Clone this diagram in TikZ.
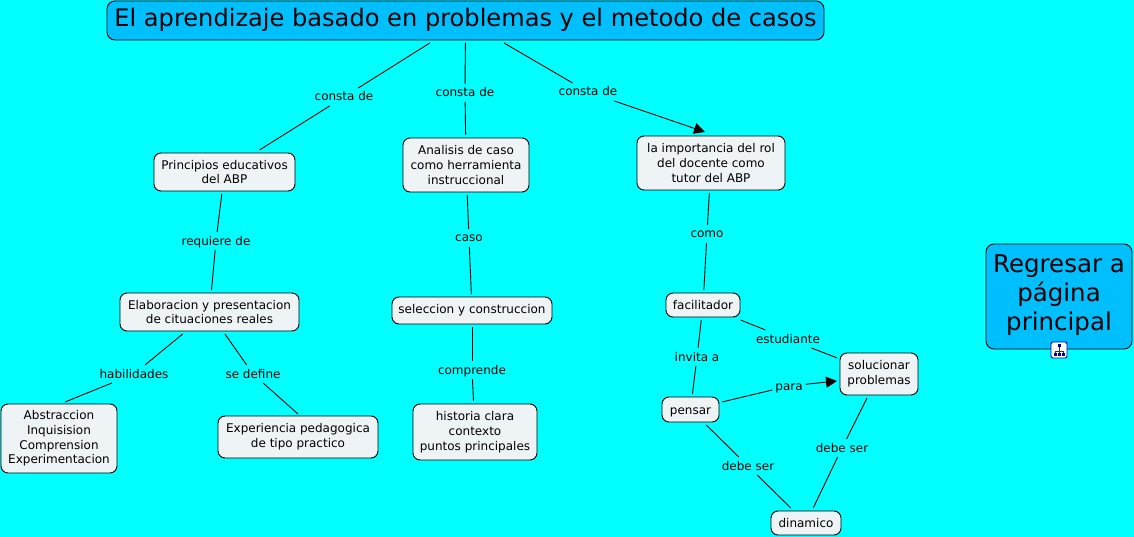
\documentclass[tikz,border=0pt]{standalone}
\usepackage{fontspec}
\setmainfont{DejaVu Sans}
\usetikzlibrary{arrows.meta}
\definecolor{bg}{RGB}{0,255,255}
\definecolor{boxfill}{RGB}{238,243,246}
\definecolor{headfill}{RGB}{0,191,255}
\tikzset{
  x=1pt,y=-1pt,
  box/.style={draw=black,line width=0.9pt,rounded corners=7pt,fill=boxfill,align=center,inner sep=0pt,outer sep=3pt,font=\fontsize{12}{14.7}\selectfont},
  head/.style={box,fill=headfill,rounded corners=8pt},
  lab/.style={inner sep=2pt,outer sep=1pt,text height=10pt,text depth=2pt,font=\fontsize{12}{14}\selectfont},
  link/.style={line width=0.9pt,draw=black},
}
\begin{document}
\begin{tikzpicture}
\useasboundingbox (0,0) rectangle (1134,537);
\fill[bg] (0,0) rectangle (1134,537);
% concepts
\node[head,minimum width=717pt,minimum height=39pt,font=\fontsize{24.1}{29}\selectfont] (title) at (465.5,20.5) {El aprendizaje basado en problemas y el metodo de casos\rule[-6.5pt]{0pt}{0pt}};
\node[box,minimum width=141pt,minimum height=38pt] (prin) at (224.5,172) {Principios educativos\\del ABP};
\node[box,minimum width=126pt,minimum height=54pt] (ana) at (466,165) {Analisis de caso\\como herramienta\\instruccional};
\node[box,minimum width=148pt,minimum height=54pt] (imp) at (711,163) {la importancia del rol\\del docente como\\tutor del ABP};
\node[box,minimum width=179pt,minimum height=38pt] (ela) at (209.5,312) {Elaboracion y presentacion\\de cituaciones reales};
\node[box,minimum width=160pt,minimum height=27pt] (sel) at (472,310.5) {seleccion y construccion};
\node[box,minimum width=74pt,minimum height=24pt] (fac) at (703,305) {facilitador};
\node[box,minimum width=116pt,minimum height=69pt] (abs) at (59,438.5) {Abstraccion\\Inquisision\\Comprension\\Experimentacion};
\node[box,minimum width=160pt,minimum height=42pt] (exp) at (298,437) {Experiencia pedagogica\\de tipo practico};
\node[box,minimum width=124pt,minimum height=56pt] (his) at (475,432) {historia clara\\contexto\\puntos principales};
\node[box,minimum width=57pt,minimum height=25pt] (pen) at (690.5,409.5) {\rule{0pt}{12.5pt}pensar};
\node[box,minimum width=78pt,minimum height=42pt] (sol) at (879,374) {solucionar\\problemas};
\node[box,minimum width=70pt,minimum height=24pt] (din) at (806,523) {dinamico};
\node[head,minimum width=146pt,minimum height=105pt,font=\fontsize{24.5}{29}\selectfont] (reg) at (1059,296.5) {Regresar a\\página\\principal\rule[-8pt]{0pt}{0pt}};
% labels
\node[lab] (l1) at (344,97) {consta de};
\node[lab] (l2) at (465,93) {consta de};
\node[lab] (l3) at (588,92) {consta de};
\node[lab] (l4) at (216,241) {requiere de};
\node[lab] (l5) at (469,238) {caso};
\node[lab] (l6) at (707,234) {como};
\node[lab] (l7) at (134,374) {habilidades};
\node[lab] (l8) at (253,374) {se define};
\node[lab] (l9) at (472,370) {comprende};
\node[lab] (l10) at (697,357) {invita a};
\node[lab] (l11) at (788,339) {estudiante};
\node[lab] (l12) at (789,386) {para};
\node[lab] (l13) at (748,466) {debe ser};
\node[lab] (l14) at (842,448) {debe ser};
% connectors
\draw[link] (title) -- (l1);
\draw[link] (l1) -- (prin);
\draw[link] (title) -- (l2);
\draw[link] (l2) -- (ana);
\draw[link] (title) -- (l3);
\draw[link,-{Triangle[length=11pt,width=11pt]}] (l3) -- ([xshift=-6pt,yshift=1pt]imp.north);
\draw[link] (prin) -- (l4);
\draw[link] (l4) -- (ela);
\draw[link] (ana) -- (l5);
\draw[link] (l5) -- (sel);
\draw[link] (imp) -- (l6);
\draw[link] (l6) -- (fac);
\draw[link] (ela) -- (l7);
\draw[link] (l7) -- ([xshift=6pt,yshift=-1pt]abs.north);
\draw[link] (ela) -- (l8);
\draw[link] (l8) -- ([yshift=-1pt]exp.north);
\draw[link] (sel) -- (l9);
\draw[link] (l9) -- (his);
\draw[link] (fac) -- (l10);
\draw[link] (l10) -- (pen);
\draw[link] (fac) -- (l11);
\draw[link] (l11) -- (sol);
\draw[link] (pen) -- (l12);
\draw[link,-{Triangle[length=11pt,width=11pt]}] (l12) -- ([yshift=-7pt]sol.west);
\draw[link] (pen) -- (l13);
\draw[link] (l13) -- (din);
\draw[link] (sol) -- (l14);
\draw[link] (l14) -- (din);
% icon
\node[draw=blue!70!black,fill=white,rounded corners=2pt,line width=0.9pt,minimum width=16pt,minimum height=16pt,inner sep=0pt] (icon) at (1059,350) {};
\begin{scope}[shift={(icon.center)}]
\draw[line width=0.8pt,black!80] (0,-3) -- (0,4) (-4,4) -- (-4,1) -- (4,1) -- (4,4);
\fill[blue!70!black] (-1.5,-6) rectangle (1.5,-3);
\fill[blue!70!black] (-5.5,3) rectangle (-2.5,6);
\fill[blue!70!black] (-1.5,3) rectangle (1.5,6);
\fill[blue!70!black] (2.5,3) rectangle (5.5,6);
\end{scope}
\end{tikzpicture}
\end{document}
